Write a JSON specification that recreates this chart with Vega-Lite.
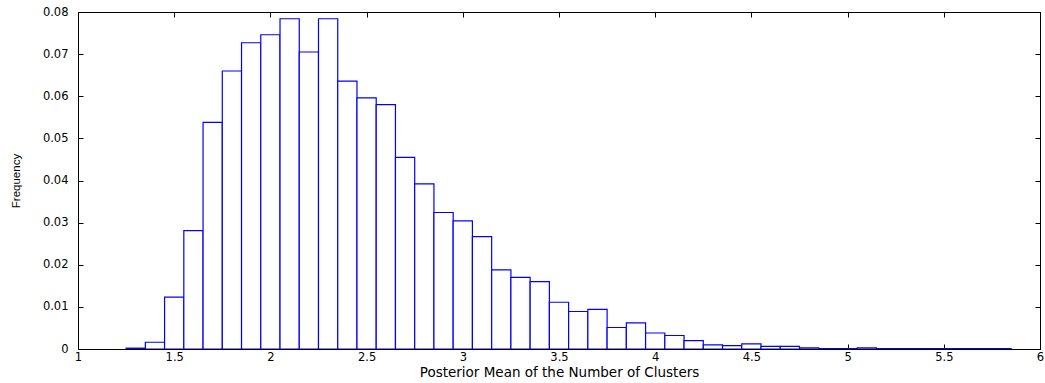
{
  "$schema": "https://vega.github.io/schema/vega-lite/v6.json",
  "width": 962,
  "height": 337,
  "autosize": {"type": "none"},
  "padding": {"left": 78, "top": 12, "right": 5, "bottom": 34},
  "background": "white",
  "config": {
    "view": {"stroke": "black", "strokeWidth": 1},
    "font": "Liberation Sans"
  },
  "data": {
    "values": [
      {"start": 1.25, "end": 1.35, "freq": 0.0002},
      {"start": 1.35, "end": 1.45, "freq": 0.0016},
      {"start": 1.45, "end": 1.55, "freq": 0.0123},
      {"start": 1.55, "end": 1.65, "freq": 0.0281},
      {"start": 1.65, "end": 1.75, "freq": 0.0538},
      {"start": 1.75, "end": 1.85, "freq": 0.0660},
      {"start": 1.85, "end": 1.95, "freq": 0.0727},
      {"start": 1.95, "end": 2.05, "freq": 0.0746},
      {"start": 2.05, "end": 2.15, "freq": 0.0784},
      {"start": 2.15, "end": 2.25, "freq": 0.0705},
      {"start": 2.25, "end": 2.35, "freq": 0.0784},
      {"start": 2.35, "end": 2.45, "freq": 0.0636},
      {"start": 2.45, "end": 2.55, "freq": 0.0596},
      {"start": 2.55, "end": 2.65, "freq": 0.0580},
      {"start": 2.65, "end": 2.75, "freq": 0.0455},
      {"start": 2.75, "end": 2.85, "freq": 0.0392},
      {"start": 2.85, "end": 2.95, "freq": 0.0324},
      {"start": 2.95, "end": 3.05, "freq": 0.0304},
      {"start": 3.05, "end": 3.15, "freq": 0.0267},
      {"start": 3.15, "end": 3.25, "freq": 0.0188},
      {"start": 3.25, "end": 3.35, "freq": 0.0170},
      {"start": 3.35, "end": 3.45, "freq": 0.0160},
      {"start": 3.45, "end": 3.55, "freq": 0.0111},
      {"start": 3.55, "end": 3.65, "freq": 0.0089},
      {"start": 3.65, "end": 3.75, "freq": 0.0094},
      {"start": 3.75, "end": 3.85, "freq": 0.0051},
      {"start": 3.85, "end": 3.95, "freq": 0.0062},
      {"start": 3.95, "end": 4.05, "freq": 0.0038},
      {"start": 4.05, "end": 4.15, "freq": 0.0032},
      {"start": 4.15, "end": 4.25, "freq": 0.0020},
      {"start": 4.25, "end": 4.35, "freq": 0.0010},
      {"start": 4.35, "end": 4.45, "freq": 0.0008},
      {"start": 4.45, "end": 4.55, "freq": 0.0012},
      {"start": 4.55, "end": 4.65, "freq": 0.0006},
      {"start": 4.65, "end": 4.75, "freq": 0.0006},
      {"start": 4.75, "end": 4.85, "freq": 0.0003},
      {"start": 4.85, "end": 4.95, "freq": 0.0001},
      {"start": 4.95, "end": 5.05, "freq": 0.0001},
      {"start": 5.05, "end": 5.15, "freq": 0.0003},
      {"start": 5.15, "end": 5.25, "freq": 0.0001},
      {"start": 5.25, "end": 5.35, "freq": 0.0001},
      {"start": 5.35, "end": 5.45, "freq": 0.0001},
      {"start": 5.45, "end": 5.55, "freq": 0.0001},
      {"start": 5.55, "end": 5.65, "freq": 0.0001},
      {"start": 5.65, "end": 5.75, "freq": 0.0001},
      {"start": 5.75, "end": 5.85, "freq": 0.0001}
    ]
  },
  "layer": [
    {
      "mark": {"type": "bar", "fill": "white", "stroke": "#0000ff", "strokeWidth": 1.2, "clip": true},
      "encoding": {
        "x": {
          "field": "start", "type": "quantitative",
          "scale": {"domain": [1, 6], "nice": false, "zero": false},
          "axis": {
            "orient": "bottom", "values": [1, 1.5, 2, 2.5, 3, 3.5, 4, 4.5, 5, 5.5, 6],
            "format": "~g", "grid": false, "domainColor": "black", "tickColor": "black",
            "tickSize": -5, "labelPadding": 7, "labelColor": "black", "labelFontSize": 11.5,
            "labelFont": "DejaVu Sans", "labelFlush": false,
            "title": "Posterior Mean of the Number of Clusters", "titleFontSize": 13.5,
            "titleFont": "DejaVu Sans",
            "titleFontWeight": "normal", "titleColor": "black", "titlePadding": 3
          }
        },
        "x2": {"field": "end"},
        "y": {
          "field": "freq", "type": "quantitative",
          "scale": {"domain": [0, 0.08], "nice": false},
          "axis": {
            "orient": "left", "values": [0, 0.01, 0.02, 0.03, 0.04, 0.05, 0.06, 0.07, 0.08],
            "format": "~g", "grid": false, "domainColor": "black", "tickColor": "black",
            "tickSize": -5, "labelPadding": 15, "labelColor": "black", "labelFontSize": 11.5,
            "labelFont": "DejaVu Sans", "labelFlush": false,
            "title": "Frequency", "titleFontSize": 11.5, "titleFontWeight": "normal",
            "titleColor": "black", "titlePadding": 21
          }
        },
        "y2": {"datum": 0}
      }
    },
    {
      "mark": {"type": "bar", "opacity": 0},
      "encoding": {
        "x": {
          "field": "start", "type": "quantitative",
          "scale": {"domain": [1, 6], "nice": false, "zero": false},
          "axis": {
            "orient": "top", "values": [1, 1.5, 2, 2.5, 3, 3.5, 4, 4.5, 5, 5.5, 6],
            "labels": false, "grid": false, "domainColor": "black", "tickColor": "black",
            "tickSize": -5, "title": null
          }
        },
        "x2": {"field": "end"},
        "y": {
          "field": "freq", "type": "quantitative",
          "scale": {"domain": [0, 0.08], "nice": false},
          "axis": {
            "orient": "right", "values": [0, 0.01, 0.02, 0.03, 0.04, 0.05, 0.06, 0.07, 0.08],
            "labels": false, "grid": false, "domainColor": "black", "tickColor": "black",
            "tickSize": -5, "title": null
          }
        },
        "y2": {"datum": 0}
      }
    }
  ],
  "resolve": {"axis": {"x": "independent", "y": "independent"}}
}
